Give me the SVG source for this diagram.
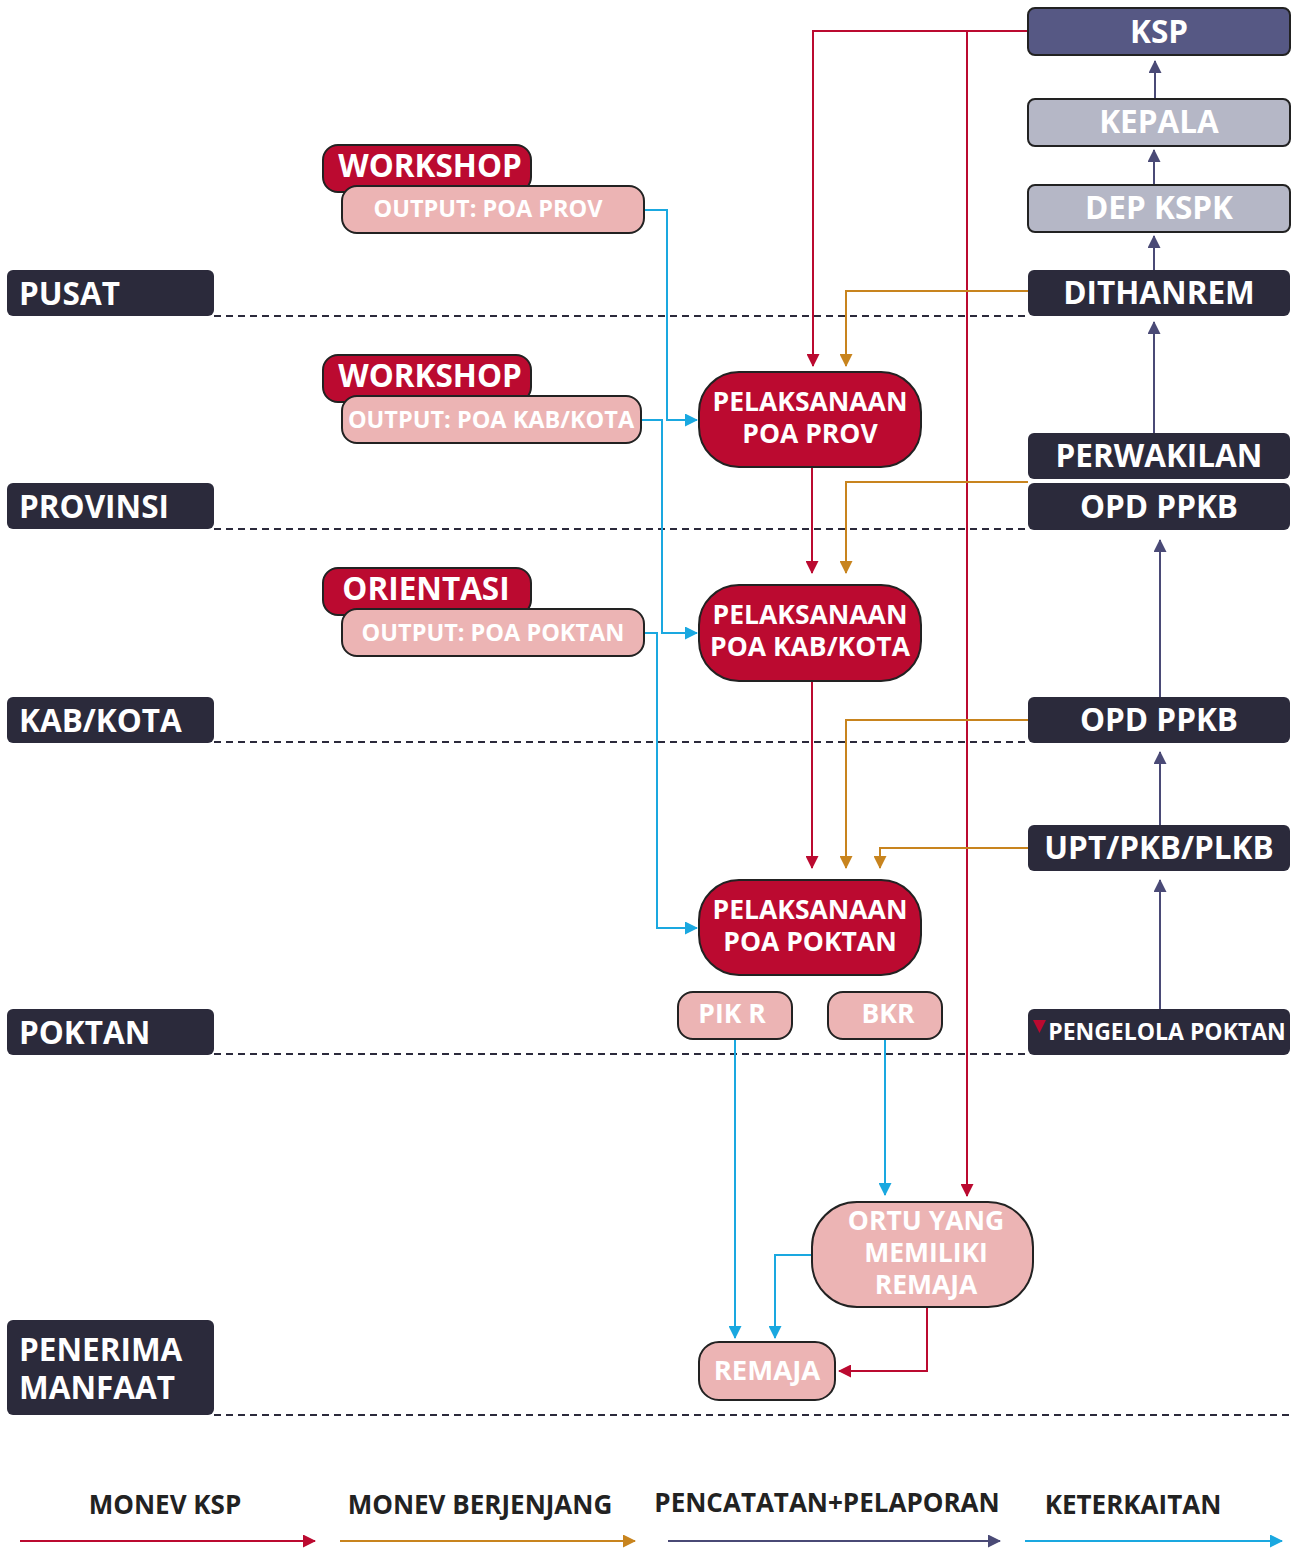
<svg xmlns="http://www.w3.org/2000/svg" width="1301" height="1550" viewBox="0 0 1301 1550">
<style>
text{font-family:"Open Sans","Liberation Sans",sans-serif;font-weight:700;fill:#fff}
.c{text-anchor:middle}
.lvl{fill:#2b2a3b}
.dark{fill:#2b2a3b}
.red{fill:#bb0a30;stroke:#222;stroke-width:2}
.pink{fill:#ecb4b4;stroke:#222;stroke-width:2}
.grey{fill:#b5b7c6;stroke:#222;stroke-width:2}
.ksp{fill:#565884;stroke:#222;stroke-width:2}
.dash{stroke:#2b2a3b;stroke-width:2;stroke-dasharray:7 5;fill:none}
.lr{stroke:#bb0a30;stroke-width:2;fill:none}
.lo{stroke:#c8841e;stroke-width:2;fill:none}
.lb{stroke:#1aa8e0;stroke-width:2;fill:none}
.lp{stroke:#4a4a76;stroke-width:2;fill:none}
.leg{fill:#222;font-size:26px}
.t30{font-size:31.5px}
.t26{font-size:26.5px}
.t27{font-size:27.5px}
.t22{font-size:23.5px}
.t23{font-size:23px}
</style>
<defs>
<marker id="mr" markerWidth="13" markerHeight="13" refX="12" refY="6.5" orient="auto" markerUnits="userSpaceOnUse"><path d="M0,0 L13,6.5 L0,13 z" fill="#bb0a30"/></marker>
<marker id="mo" markerWidth="13" markerHeight="13" refX="12" refY="6.5" orient="auto" markerUnits="userSpaceOnUse"><path d="M0,0 L13,6.5 L0,13 z" fill="#c8841e"/></marker>
<marker id="mb" markerWidth="13" markerHeight="13" refX="12" refY="6.5" orient="auto" markerUnits="userSpaceOnUse"><path d="M0,0 L13,6.5 L0,13 z" fill="#1aa8e0"/></marker>
<marker id="mp" markerWidth="13" markerHeight="13" refX="12" refY="6.5" orient="auto" markerUnits="userSpaceOnUse"><path d="M0,0 L13,6.5 L0,13 z" fill="#4a4a76"/></marker>
</defs>

<g id="dashes">
<path class="dash" d="M214,316 H1028 M214,529 H1028 M214,742 H1028 M214,1054 H1028 M214,1415 H1292"/>
</g>

<g id="lvl-pusat"><rect class="lvl" x="7" y="270" width="207" height="46" rx="6"/><text x="19" y="305" class="t30">PUSAT</text></g>
<g id="lvl-provinsi"><rect class="lvl" x="7" y="483" width="207" height="46" rx="6"/><text x="19" y="518" class="t30">PROVINSI</text></g>
<g id="lvl-kabkota"><rect class="lvl" x="7" y="697" width="207" height="46" rx="6"/><text x="19" y="732" class="t30">KAB/KOTA</text></g>
<g id="lvl-poktan"><rect class="lvl" x="7" y="1009" width="207" height="46" rx="6"/><text x="19" y="1044" class="t30">POKTAN</text></g>
<g id="lvl-penerima"><rect class="lvl" x="7" y="1320" width="207" height="95" rx="6"/><text x="19" y="1361" class="t30">PENERIMA</text><text x="19" y="1399" class="t30">MANFAAT</text></g>

<g id="connectors">
<path class="lr" d="M1028,31 H813 V366" marker-end="url(#mr)"/>
<path class="lr" d="M967,31 V1196" marker-end="url(#mr)"/>
<path class="lr" d="M812,467 V573" marker-end="url(#mr)"/>
<path class="lr" d="M812,681 V868" marker-end="url(#mr)"/>
<path class="lr" d="M927,1307 V1371 H839" marker-end="url(#mr)"/>
<path class="lo" d="M1028,291 H846 V366" marker-end="url(#mo)"/>
<path class="lo" d="M1028,482 H846 V573" marker-end="url(#mo)"/>
<path class="lo" d="M1028,720 H846 V868" marker-end="url(#mo)"/>
<path class="lo" d="M1028,848 H880 V868" marker-end="url(#mo)"/>
<path class="lb" d="M645,210 H667 V420 H697" marker-end="url(#mb)"/>
<path class="lb" d="M641,420 H662 V633 H697" marker-end="url(#mb)"/>
<path class="lb" d="M645,633 H657 V928 H697" marker-end="url(#mb)"/>
<path class="lb" d="M735,1040 V1338" marker-end="url(#mb)"/>
<path class="lb" d="M885,1040 V1195" marker-end="url(#mb)"/>
<path class="lb" d="M812,1255 H775 V1338" marker-end="url(#mb)"/>
<path class="lp" d="M1155,99 V61" marker-end="url(#mp)"/>
<path class="lp" d="M1154,185 V150" marker-end="url(#mp)"/>
<path class="lp" d="M1154,270 V236" marker-end="url(#mp)"/>
<path class="lp" d="M1154,433 V322" marker-end="url(#mp)"/>
<path class="lp" d="M1160,697 V540" marker-end="url(#mp)"/>
<path class="lp" d="M1160,825 V752" marker-end="url(#mp)"/>
<path class="lp" d="M1160,1009 V880" marker-end="url(#mp)"/>
</g>

<g id="ksp"><rect class="ksp" x="1028" y="8" width="262" height="47" rx="7"/><text x="1159" y="43" class="c t30">KSP</text></g>
<g id="kepala"><rect class="grey" x="1028" y="99" width="262" height="47" rx="7"/><text x="1159" y="133" class="c t30">KEPALA</text></g>
<g id="depkspk"><rect class="grey" x="1028" y="185" width="262" height="47" rx="7"/><text x="1159" y="219" class="c t30">DEP KSPK</text></g>
<g id="dithanrem"><rect class="dark" x="1028" y="270" width="262" height="46" rx="6"/><text x="1159" y="304" class="c t30">DITHANREM</text></g>
<g id="perwakilan"><rect class="dark" x="1028" y="433" width="262" height="46" rx="6"/><text x="1159" y="467" class="c t30">PERWAKILAN</text></g>
<g id="opdppkb-prov"><rect class="dark" x="1028" y="483" width="262" height="47" rx="6"/><text x="1159" y="518" class="c t30">OPD PPKB</text></g>
<g id="opdppkb-kab"><rect class="dark" x="1028" y="697" width="262" height="46" rx="6"/><text x="1159" y="731" class="c t30">OPD PPKB</text></g>
<g id="upt"><rect class="dark" x="1028" y="825" width="262" height="46" rx="6"/><text x="1159" y="859" class="c t30">UPT/PKB/PLKB</text></g>
<g id="pengelola"><rect class="dark" x="1028" y="1009" width="262" height="46" rx="6"/><path d="M1033,1020 H1046 L1039.5,1033 z" fill="#bb0a30"/><text x="1167" y="1040" class="c t23">PENGELOLA POKTAN</text></g>

<g id="workshop1"><rect class="red" x="323" y="145" width="208" height="47" rx="15"/><text x="430" y="177" class="c t30">WORKSHOP</text></g>
<g id="output-prov"><rect class="pink" x="342" y="186" width="302" height="47" rx="15"/><text x="488" y="217" class="c t22">OUTPUT: POA PROV</text></g>
<g id="workshop2"><rect class="red" x="323" y="355" width="208" height="47" rx="15"/><text x="430" y="387" class="c t30">WORKSHOP</text></g>
<g id="output-kab"><rect class="pink" x="342" y="396" width="299" height="47" rx="15"/><text x="491" y="428" class="c t22">OUTPUT: POA KAB/KOTA</text></g>
<g id="orientasi"><rect class="red" x="323" y="568" width="208" height="47" rx="15"/><text x="426" y="600" class="c t30">ORIENTASI</text></g>
<g id="output-poktan"><rect class="pink" x="342" y="609" width="302" height="47" rx="15"/><text x="493" y="641" class="c t22">OUTPUT: POA POKTAN</text></g>

<g id="poa-prov"><rect class="red" x="699" y="372" width="222" height="95" rx="40"/><text x="810" y="411" class="c t26">PELAKSANAAN</text><text x="810" y="443" class="c t26">POA PROV</text></g>
<g id="poa-kab"><rect class="red" x="699" y="585" width="222" height="96" rx="40"/><text x="810" y="624" class="c t26">PELAKSANAAN</text><text x="810" y="656" class="c t26">POA KAB/KOTA</text></g>
<g id="poa-poktan"><rect class="red" x="699" y="880" width="222" height="95" rx="40"/><text x="810" y="919" class="c t26">PELAKSANAAN</text><text x="810" y="951" class="c t26">POA POKTAN</text></g>

<g id="pikr"><rect class="pink" x="678" y="992" width="114" height="47" rx="15"/><text x="732" y="1023" class="c t26">PIK R</text></g>
<g id="bkr"><rect class="pink" x="828" y="992" width="114" height="47" rx="15"/><text x="888" y="1023" class="c t26">BKR</text></g>
<g id="ortu"><rect class="pink" x="812" y="1202" width="221" height="105" rx="45"/><text x="926" y="1230" class="c t26">ORTU YANG</text><text x="926" y="1262" class="c t26">MEMILIKI</text><text x="926" y="1294" class="c t26">REMAJA</text></g>
<g id="remaja"><rect class="pink" x="699" y="1342" width="136" height="58" rx="20"/><text x="767" y="1380" class="c t27">REMAJA</text></g>

<g id="legend">
<text x="165" y="1514" class="c leg">MONEV KSP</text>
<text x="480" y="1514" class="c leg">MONEV BERJENJANG</text>
<text x="827" y="1512" class="c leg">PENCATATAN+PELAPORAN</text>
<text x="1133" y="1514" class="c leg">KETERKAITAN</text>
<path class="lr" d="M20,1541 H315" marker-end="url(#mr)"/>
<path class="lo" d="M340,1541 H635" marker-end="url(#mo)"/>
<path class="lp" d="M668,1541 H1000" marker-end="url(#mp)"/>
<path class="lb" d="M1025,1541 H1282" marker-end="url(#mb)"/>
</g>
</svg>
